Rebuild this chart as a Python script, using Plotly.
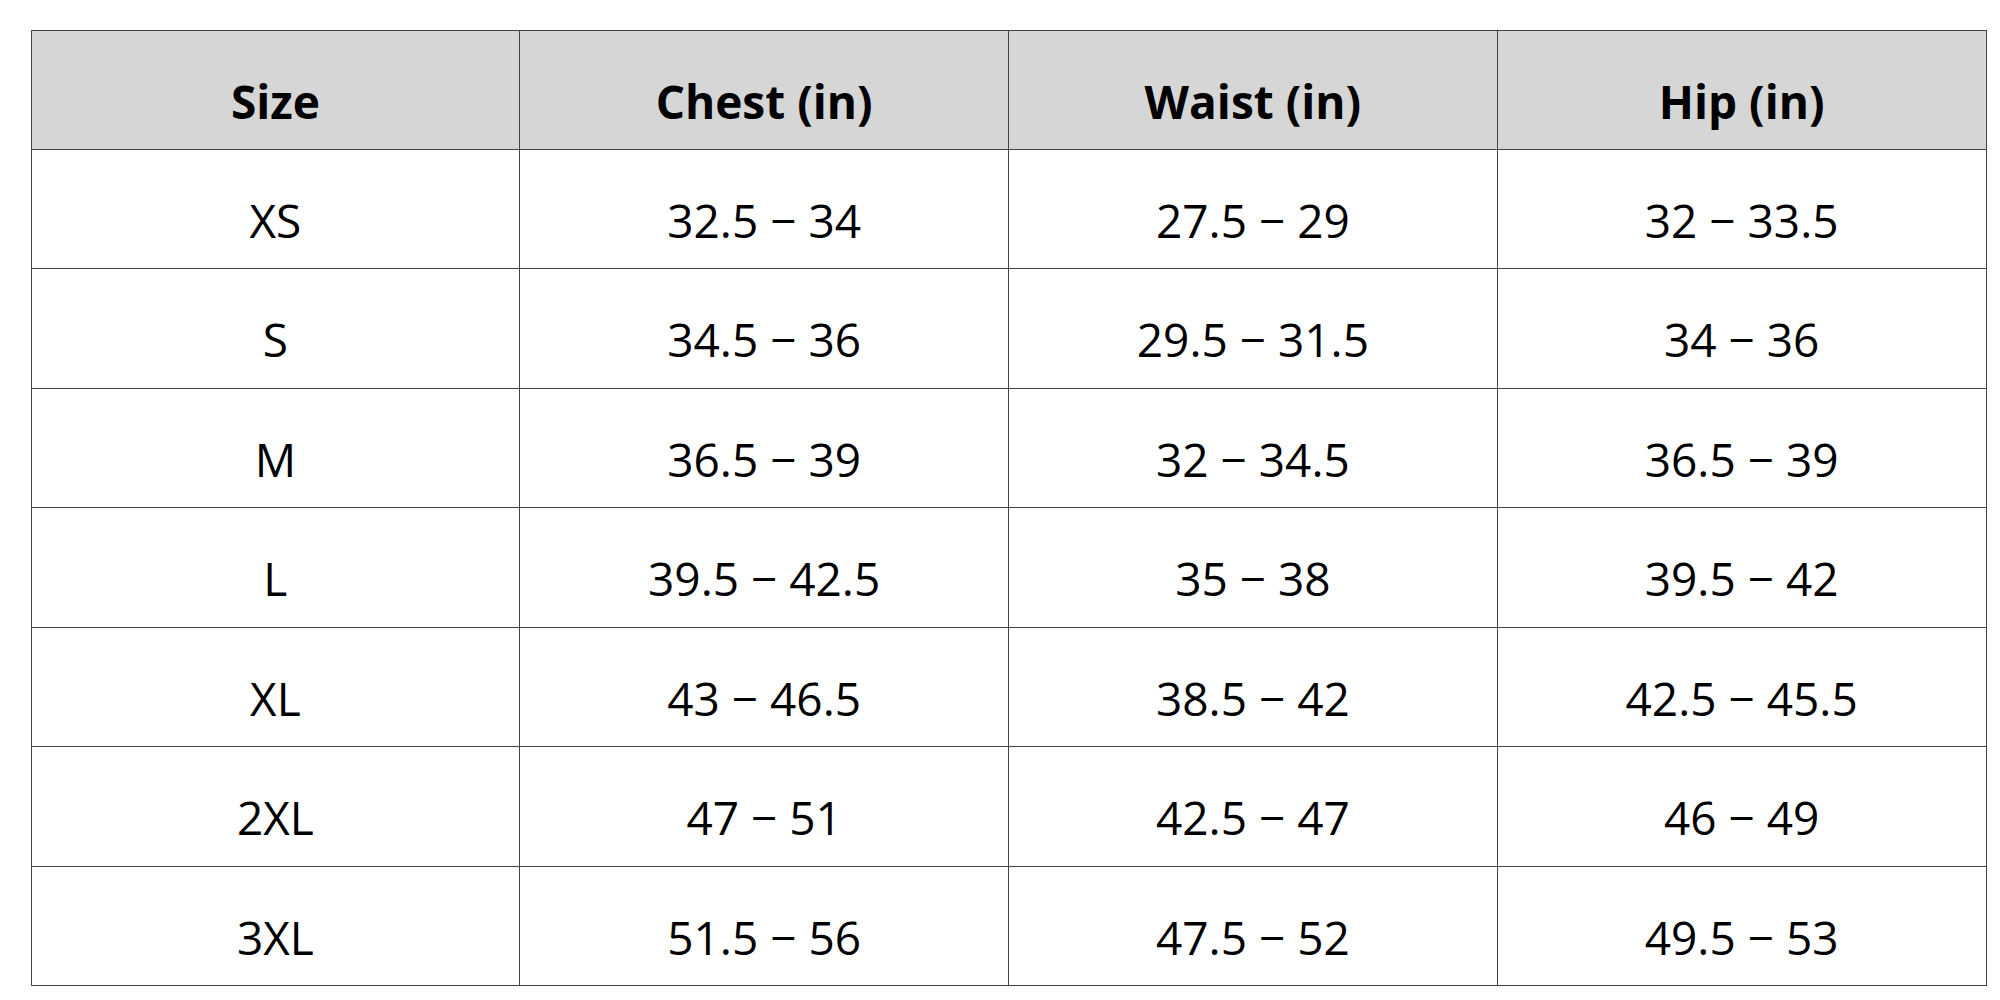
import plotly.graph_objects as go

headers = ["Size", "Chest (in)", "Waist (in)", "Hip (in)"]
sizes = ["XS", "S", "M", "L", "XL", "2XL", "3XL"]
chest = ["32.5 − 34", "34.5 − 36", "36.5 − 39", "39.5 − 42.5", "43 − 46.5", "47 − 51", "51.5 − 56"]
waist = ["27.5 − 29", "29.5 − 31.5", "32 − 34.5", "35 − 38", "38.5 − 42", "42.5 − 47", "47.5 − 52"]
hip = ["32 − 33.5", "34 − 36", "36.5 − 39", "39.5 − 42", "42.5 − 45.5", "46 − 49", "49.5 − 53"]

# plotly tables have no vertical centering, so push text down with a small blank line
pad = "<span style='font-size:20px'> </span><br>"

def centered(col):
    return [pad + v for v in col]

fig = go.Figure(go.Table(
    columnwidth=[1, 1, 1, 1],
    header=dict(
        values=[pad + "<b>" + h + "</b>" for h in headers],
        fill_color="#d6d6d6",
        line=dict(color="#444444", width=1),
        align="center",
        height=119,
        font=dict(family="Open Sans", size=46, color="black"),
    ),
    cells=dict(
        values=[centered(sizes), centered(chest), centered(waist), centered(hip)],
        fill_color="white",
        line=dict(color="#444444", width=1),
        align="center",
        height=119.5,
        font=dict(family="Open Sans", size=46, color="black"),
    ),
))

fig.update_layout(
    width=2000, height=1000,
    margin=dict(l=23, r=22, t=22, b=0),
    paper_bgcolor="white",
)
fig.write_html("out.html")
